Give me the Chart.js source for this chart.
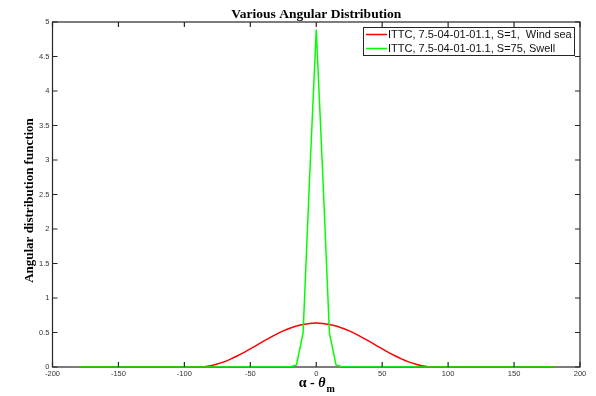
<!DOCTYPE html>
<html>
<head>
<meta charset="utf-8">
<script src="https://cdn.jsdelivr.net/npm/chart.js@4.4.1/dist/chart.umd.min.js"></script>
<style>
    html, body { margin: 0; padding: 0; background: #fff; }
    #wrap { width: 596px; height: 396px; }
</style>
</head>
<body>
<div id="wrap"><canvas id="chart" width="596" height="396"></canvas></div>
<script>
/* Angle alpha - theta_m, degrees */
const angles = [
    -180, -175, -170, -165, -160, -155, -150, -145, -140, -135, -130, -125, -120,
    -115, -110, -105, -100, -95, -90, -85, -80, -75, -70, -65, -60, -55, -50,
    -45, -40, -35, -30, -25, -20, -15, -10, -5, 0, 5, 10, 15, 20, 25, 30,
    35, 40, 45, 50, 55, 60, 65, 70, 75, 80, 85, 90, 95, 100, 105, 110,
    115, 120, 125, 130, 135, 140, 145, 150, 155, 160, 165, 170, 175, 180
];

/* ITTC, S=1, wind sea */
const windSea = [
    0, 0, 0, 0, 0, 0, 0, 0, 0, 0, 0, 0, 0,
    0, 0, 0, 0, 0, 0, 0.005, 0.019, 0.043, 0.074, 0.114, 0.159, 0.209, 0.263,
    0.318, 0.374, 0.427, 0.477, 0.523, 0.562, 0.594, 0.617, 0.632, 0.637, 0.632, 0.617, 0.594, 0.562, 0.523, 0.477,
    0.427, 0.374, 0.318, 0.263, 0.209, 0.159, 0.114, 0.074, 0.043, 0.019, 0.005, 0, 0, 0, 0, 0,
    0, 0, 0, 0, 0, 0, 0, 0, 0, 0, 0, 0, 0, 0
];

/* ITTC, S=75, swell */
const swell = [
    0, 0, 0, 0, 0, 0, 0, 0, 0, 0, 0, 0, 0,
    0, 0, 0, 0, 0, 0, 0, 0, 0, 0, 0, 0, 0, 0,
    0, 0, 0, 0, 0, 0, 0.03, 0.49, 2.76, 4.89, 2.76, 0.49, 0.03, 0, 0, 0,
    0, 0, 0, 0, 0, 0, 0, 0, 0, 0, 0, 0, 0, 0, 0, 0,
    0, 0, 0, 0, 0, 0, 0, 0, 0, 0, 0, 0, 0, 0
];

const seriesNames = [
    'ITTC, 7.5-04-01-01.1, S=1,  Wind sea',
    'ITTC, 7.5-04-01-01.1, S=75, Swell'
];
const seriesColors = ['#ff0000', '#00ff00'];

const titleText = 'Various Angular Distribution';
const yTitle = 'Angular distribution function';


function toPoints(ys) {
    return angles.map((a, i) => ({x: a, y: ys[i]}));
}


/* MATLAB style box, inward ticks, titles and legend */
const matlabBox = {
    id: 'matlabBox',
    beforeDatasetsDraw(chart) {
        const {ctx, chartArea: a} = chart;
        ctx.save();
        ctx.strokeStyle = '#262626';
        ctx.lineWidth = 1.2;
        ctx.strokeRect(a.left, a.top, a.right - a.left, a.bottom - a.top);
        ctx.restore();
    },
    afterDatasetsDraw(chart) {
        const {ctx, chartArea: a} = chart;
        const xs = chart.scales.x;
        const ys = chart.scales.y;
        const len = 5;

        ctx.save();
        ctx.strokeStyle = '#262626';
        ctx.lineWidth = 1.2;
        ctx.beginPath();
        xs.ticks.forEach(t => {
            const px = xs.getPixelForValue(t.value);
            ctx.moveTo(px, a.bottom);
            ctx.lineTo(px, a.bottom - len);
            ctx.moveTo(px, a.top);
            ctx.lineTo(px, a.top + len);
        });
        ys.ticks.forEach(t => {
            const py = ys.getPixelForValue(t.value);
            ctx.moveTo(a.left, py);
            ctx.lineTo(a.left + len, py);
            ctx.moveTo(a.right, py);
            ctx.lineTo(a.right - len, py);
        });
        ctx.stroke();

        // title
        const cx = (a.left + a.right) / 2;
        ctx.fillStyle = '#000';
        ctx.textAlign = 'center';
        ctx.textBaseline = 'alphabetic';
        ctx.font = 'bold 13.5px "Liberation Serif", "Times New Roman", serif';
        ctx.fillText(titleText, cx, 18);

        // y title
        ctx.save();
        ctx.translate(30, (a.top + a.bottom) / 2 + 6);
        ctx.rotate(-Math.PI / 2);
        ctx.textBaseline = 'middle';
        ctx.font = 'bold 13px "Liberation Serif", "Times New Roman", serif';
        ctx.fillText(yTitle, 0, 0);
        ctx.restore();

        // x title: alpha - theta with subscript m
        const f1 = 'bold 14px "Liberation Serif", serif';
        const f2 = 'bold italic 14px "Liberation Serif", serif';
        const f3 = 'bold 10px "Liberation Serif", serif';
        ctx.textAlign = 'left';
        ctx.font = f1;
        const w1 = ctx.measureText('α - ').width;
        ctx.font = f2;
        const w2 = ctx.measureText('θ').width;
        ctx.font = f3;
        const w3 = ctx.measureText('m').width;
        let x0 = cx - (w1 + w2 + w3) / 2;
        ctx.font = f1;
        ctx.fillText('α - ', x0, 387);
        ctx.font = f2;
        ctx.fillText('θ', x0 + w1, 387);
        ctx.font = f3;
        ctx.fillText('m', x0 + w1 + w2 + 1, 392);

        // legend
        const lx = 363.5, ly = 27.5, lw = 211, lh = 28;
        ctx.fillStyle = '#fff';
        ctx.fillRect(lx, ly, lw, lh);
        ctx.strokeStyle = '#262626';
        ctx.lineWidth = 1;
        ctx.strokeRect(lx, ly, lw, lh);
        ctx.font = '11px "Liberation Sans", Arial, sans-serif';
        ctx.textBaseline = 'middle';
        seriesNames.forEach((name, i) => {
            const rowY = 34.5 + i * 14;
            ctx.strokeStyle = seriesColors[i];
            ctx.lineWidth = 1.5;
            ctx.beginPath();
            ctx.moveTo(366, rowY);
            ctx.lineTo(387, rowY);
            ctx.stroke();
            ctx.fillStyle = '#111';
            ctx.fillText(name, 388, rowY + 0.5);
        });
        ctx.restore();
    }
};


const tickFont = {family: '"Liberation Sans", Arial, sans-serif', size: 7.5};

new Chart(document.getElementById('chart'), {
    type: 'line',
    data: {
        datasets: [
            {
                label: seriesNames[0],
                data: toPoints(windSea),
                borderColor: seriesColors[0],
                borderWidth: 1.5,
                pointRadius: 0,
                cubicInterpolationMode: 'monotone',
                order: 1,
            },
            {
                label: seriesNames[1],
                data: toPoints(swell),
                borderColor: seriesColors[1],
                borderWidth: 1.5,
                pointRadius: 0,
                tension: 0,
                order: 0,
            }
        ]
    },
    options: {
        responsive: false,
        animation: false,
        layout: {
            padding: {top: 22, right: 16, left: 0, bottom: 0}
        },
        plugins: {
            legend: {display: false},
            tooltip: {enabled: false},
        },
        scales: {
            x: {
                type: 'linear',
                min: -200,
                max: 200,
                ticks: {stepSize: 50, color: '#333', font: tickFont, padding: 2, maxRotation: 0},
                grid: {display: false, drawTicks: false},
                border: {display: false},
                afterFit(scale) { scale.height = 29; },
            },
            y: {
                min: 0,
                max: 5,
                ticks: {
                    stepSize: 0.5,
                    color: '#333',
                    font: tickFont,
                    padding: 3,
                    callback: v => String(Number(v.toFixed(1))),
                },
                grid: {display: false, drawTicks: false},
                border: {display: false},
                afterFit(scale) { scale.width = 52.5; },
            }
        }
    },
    plugins: [matlabBox]
});
</script>
</body>
</html>
